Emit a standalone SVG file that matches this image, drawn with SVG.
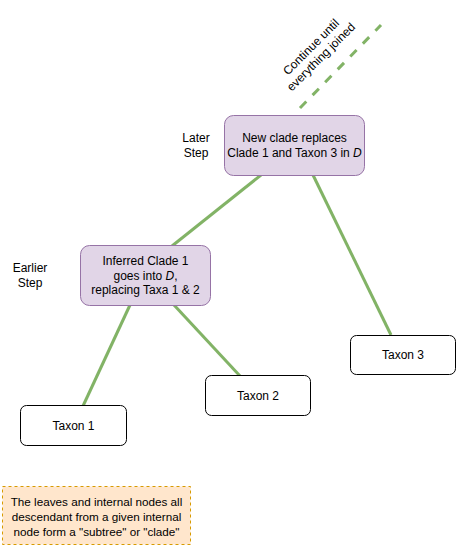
<svg xmlns="http://www.w3.org/2000/svg" width="457" height="546" viewBox="0 0 457 546">
<style>
text{font-family:"Liberation Sans",Arial,sans-serif;font-size:12px;fill:#000;text-anchor:middle;dominant-baseline:central}
.p{fill:#e1d5e7;stroke:#9673a6;stroke-width:1}
.w{fill:#fff;stroke:#000;stroke-width:1}
.e{stroke:#82b366;stroke-width:3;fill:none}
</style>
<rect width="457" height="546" fill="#fff"/>
<g id="connectors">
<line class="e" x1="261" y1="175" x2="172" y2="246"/>
<line class="e" x1="313" y1="175" x2="391" y2="335"/>
<line class="e" x1="130" y1="305" x2="83" y2="406"/>
<line class="e" x1="174" y1="305" x2="240" y2="376"/>
<line class="e" x1="300" y1="108" x2="381" y2="25" stroke-dasharray="9,9"/>
</g>
<g id="n-continue"><text transform="rotate(-45 316 52)"><tspan x="316" y="45">Continue until</tspan><tspan x="316" y="59">everything joined</tspan></text></g>
<g id="n-later"><text><tspan x="196" y="138">Later</tspan><tspan x="196" y="153">Step</tspan></text></g>
<g id="n-earlier"><text><tspan x="30" y="268">Earlier</tspan><tspan x="30" y="283">Step</tspan></text></g>
<g id="n-newclade"><rect class="p" x="224.5" y="115.5" width="140" height="60" rx="9"/><text><tspan x="294.5" y="138">New clade replaces</tspan><tspan x="294.5" y="153">Clade 1 and Taxon 3 in <tspan font-style="italic">D</tspan></tspan></text></g>
<g id="n-clade1"><rect class="p" x="80.5" y="245.5" width="130" height="60" rx="9"/><text><tspan x="145.5" y="261">Inferred Clade 1</tspan><tspan x="145.5" y="275.5">goes into <tspan font-style="italic">D</tspan>,</tspan><tspan x="145.5" y="290">replacing Taxa 1 &amp; 2</tspan></text></g>
<g id="n-taxon3"><rect class="w" x="350.5" y="335.5" width="105" height="39" rx="6"/><text x="403" y="355">Taxon 3</text></g>
<g id="n-taxon2"><rect class="w" x="205.5" y="375.5" width="105" height="40" rx="6"/><text x="258" y="395.5">Taxon 2</text></g>
<g id="n-taxon1"><rect class="w" x="20.5" y="405.5" width="106" height="40" rx="6"/><text x="73.5" y="425.5">Taxon 1</text></g>
<g id="n-note"><rect x="2.5" y="486.5" width="188" height="58" fill="#ffe6cc" stroke="#d79b00" stroke-dasharray="3,3"/><text style="font-size:11.7px"><tspan x="96.5" y="500.5">The leaves and internal nodes all</tspan><tspan x="96.5" y="515.5">descendant from a given internal</tspan><tspan x="96.5" y="530.5">node form a "subtree" or "clade"</tspan></text></g>
</svg>
